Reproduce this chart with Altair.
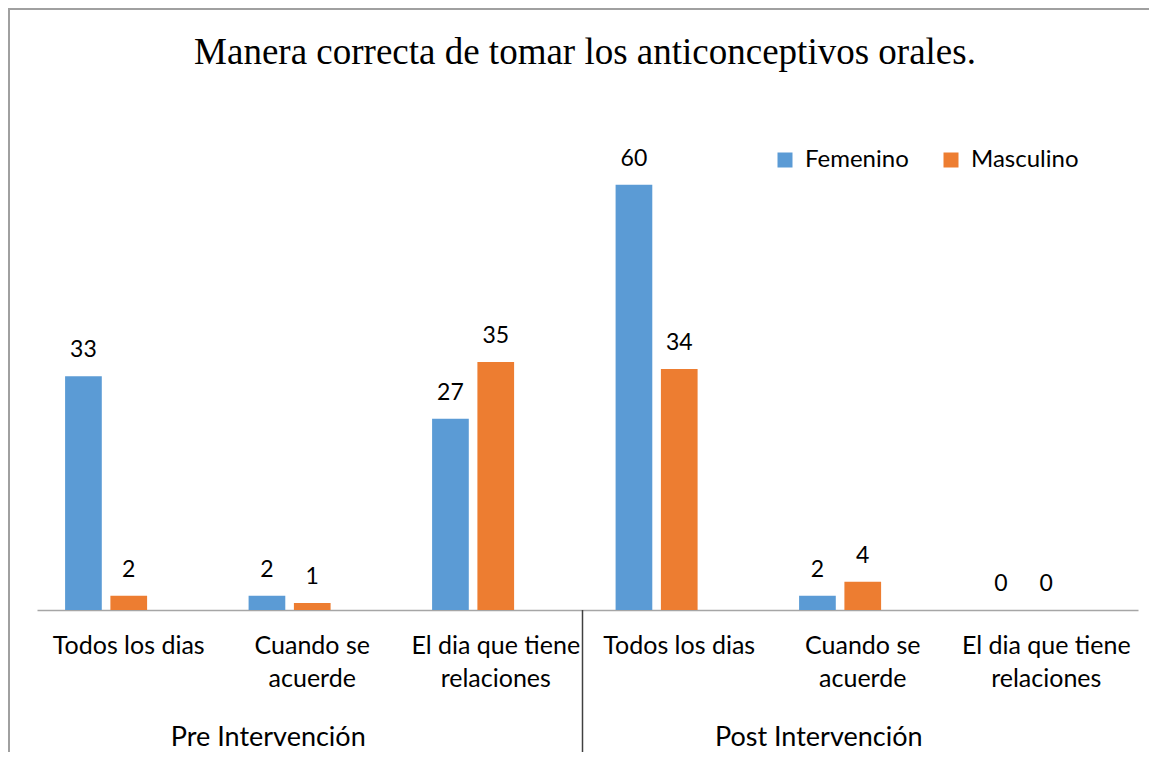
import altair as alt
import pandas as pd

# ---- data ----
grupos = ["Pre Intervención", "Post Intervención"]
respuestas = [["Todos los dias"], ["Cuando se", "acuerde"], ["El dia que tiene", "relaciones"]]
series = ["Femenino", "Masculino"]
femenino = [33, 2, 27, 60, 2, 0]
masculino = [2, 1, 35, 34, 4, 0]
titulo = "Manera correcta de tomar los anticonceptivos orales."

claves = ["|".join([g] + r) for g in grupos for r in respuestas]

rows = []
for i, c in enumerate(claves):
    rows.append({"clave": c, "sexo": series[0], "valor": femenino[i]})
    rows.append({"clave": c, "sexo": series[1], "valor": masculino[i]})
df = pd.DataFrame(rows)

grupo_df = pd.DataFrame({"clave": [claves[1], claves[4]], "grupo": grupos})
div_df = pd.DataFrame({"clave": [claves[3]]})
titulo_df = pd.DataFrame({"titulo": [titulo]})
deco_df = pd.DataFrame({"d": [0]})

W, H = 1101, 496
FONT = "Lato"
PAD = {"left": 29, "top": 106, "right": 11, "bottom": 142}

x_scale = alt.Scale(domain=claves, paddingInner=0, paddingOuter=0)
x_axis = alt.Axis(
    title=None,
    labelExpr="slice(split(datum.value, '|'), 1)",
    labelAngle=0,
    labelFont=FONT,
    labelFontSize=25,
    labelColor="#000000",
    labelPadding=23,
    labelLineHeight=33,
    labelOverlap=False,
    labelLimit=300,
    ticks=False,
    grid=False,
    domainColor="#a6a6a6",
    domainWidth=1.5,
)


def make_x(**kw):
    return alt.X("clave:N", scale=x_scale, sort=claves, axis=x_axis, **kw)


xo = alt.XOffset(
    "sexo:N",
    scale=alt.Scale(domain=series + ["_"], paddingInner=0.19, paddingOuter=0.62),
)
y = alt.Y("valor:Q", scale=alt.Scale(domain=[0, 70], nice=False, zero=True), axis=None)

legend = alt.Legend(
    orient="none",
    legendX=736,
    legendY=34,
    direction="horizontal",
    title=None,
    symbolType="square",
    symbolSize=225,
    symbolStrokeWidth=0,
    symbolOpacity=1,
    labelFont=FONT,
    labelFontSize=24,
    labelColor="#000000",
    labelOffset=8,
    columnPadding=30,
    padding=0,
)

bars = alt.Chart(df).mark_bar().encode(
    x=make_x(),
    xOffset=xo,
    y=y,
    color=alt.Color(
        "sexo:N",
        scale=alt.Scale(domain=series, range=["#5B9BD5", "#ED7D31"]),
        legend=legend,
    ),
)

labels = alt.Chart(df).mark_text(
    font=FONT, fontSize=23, color="#000000", baseline="alphabetic", dy=-19
).encode(x=make_x(), xOffset=xo, y=y, text="valor:Q")

group_labels = alt.Chart(grupo_df).mark_text(
    font=FONT, fontSize=27, color="#000000", baseline="alphabetic", dx=-44
).encode(x=make_x(), y=alt.value(H + 136), text="grupo:N")

divider = alt.Chart(div_df).mark_rule(color="#404040", strokeWidth=1.5).encode(
    x=make_x(bandPosition=0), xOffset=alt.value(-5), y=alt.value(H), y2=alt.value(H + 160)
)

title_mark = alt.Chart(titulo_df).mark_text(
    font="Liberation Serif", fontSize=37, color="#000000", baseline="alphabetic", align="center"
).encode(x=alt.value(W / 2 - 2.5), y=alt.value(64 - 114), text="titulo:N")

border_top = alt.Chart(deco_df).mark_rule(color="#a0a0a0", strokeWidth=2).encode(
    x=alt.value(-PAD["left"]), x2=alt.value(W + PAD["right"]), y=alt.value(-PAD["top"] + 1)
)
border_left = alt.Chart(deco_df).mark_rule(color="#a0a0a0", strokeWidth=2).encode(
    x=alt.value(-PAD["left"] + 1), y=alt.value(-PAD["top"]), y2=alt.value(H + PAD["bottom"])
)

chart = (
    alt.layer(bars, labels, group_labels, divider, title_mark, border_top, border_left)
    .properties(
        width=W,
        height=H,
        autosize=alt.AutoSizeParams(type="none"),
        padding=PAD,
        background="white",
    )
    .configure_view(stroke=None)
)

chart.save("out.html", embed_options={"renderer": "svg", "actions": False})
